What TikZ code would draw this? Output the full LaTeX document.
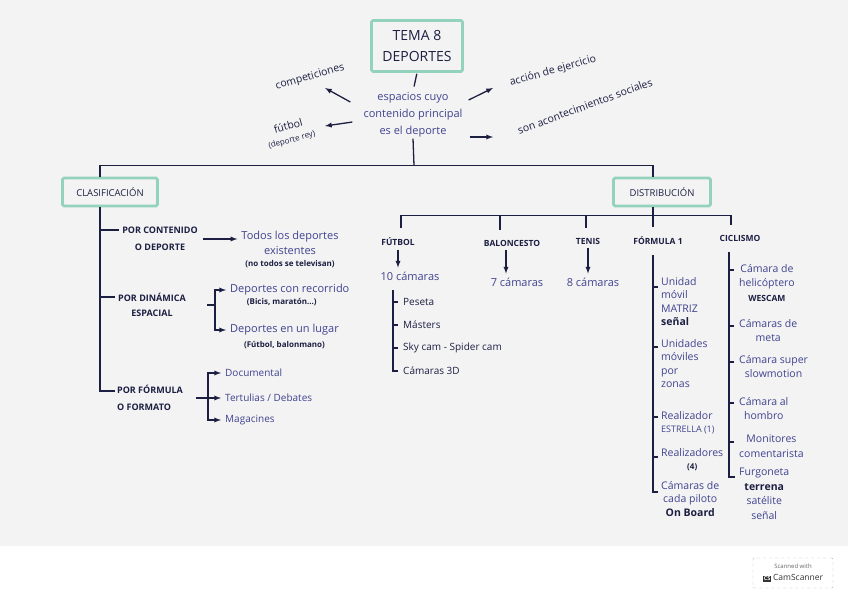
\documentclass[tikz,border=0pt]{standalone}
\usepackage{fontspec}
\setmainfont{Open Sans}
\usepackage{tikz}
\usetikzlibrary{arrows.meta,positioning}

\definecolor{ink}{HTML}{1C1F42}
\definecolor{penblue}{HTML}{40438F}
\definecolor{marker}{HTML}{93D3BD}
\definecolor{paper}{HTML}{F3F3F3}

\begin{document}
\begin{tikzpicture}[x=1pt, y=-1pt,
    wire/.style={draw=ink, line width=1.3pt},
    marked/.style={draw=marker, line width=2.6pt, rounded corners=1.5pt, text=ink, align=center, inner sep=0pt},
    caps/.style={text=ink, font=\fontsize{9}{17}\selectfont\bfseries, inner sep=1pt},
    sport/.style={text=ink, font=\fontsize{8.5}{10}\selectfont\bfseries, inner sep=1pt},
    pen/.style={text=penblue, font=\fontsize{11}{15}\selectfont, inner sep=1pt},
    listitem/.style={text=penblue, font=\fontsize{10.5}{13.5}\selectfont, inner sep=1pt},
    cyclitem/.style={text=penblue, font=\fontsize{10.5}{14.5}\selectfont, inner sep=1pt, align=center, anchor=north west},
    note/.style={text=ink, font=\fontsize{10.5}{13}\selectfont, inner sep=1pt},
    aside/.style={text=ink, font=\fontsize{8}{9}\selectfont\bfseries, inner sep=1pt}]

\useasboundingbox (0,0) rectangle (848,599);
\fill[paper] (0,0) rectangle (848,546);

% tema central
\node[marked, minimum width=91pt, minimum height=51pt, font=\fontsize{14}{21}\selectfont] (tema) at (417,46) {TEMA 8\\DEPORTES};
\node[pen, align=center, font=\fontsize{11}{17}\selectfont] (espacios) at (413,115) {espacios cuyo\\contenido principal\\es el deporte};
\draw[wire, shorten <=1pt, shorten >=5pt] (tema.south) -- (espacios.north);

\node[note, rotate=16] (compet) at (310,77) {competiciones};
\node[note, rotate=15, align=center, font=\fontsize{10.5}{13}\selectfont] (futbolrey) at (290,133) {fútbol\\{\fontsize{8}{10}\selectfont (deporte rey)}};
\node[note, rotate=16] (accion) at (553,71) {acción de ejercicio};
\node[note, rotate=20] (sociales) at (585,106) {son acontecimientos sociales};

\draw[wire, -latex] ([shift={(-12,-13)}]espacios.west) -- ([shift={(15,11)}]compet.center);
\draw[wire, -latex] ([shift={(-10,7)}]espacios.west) -- ([shift={(35,-7)}]futbolrey.center);
\draw[wire, -latex] ([shift={(5,-15)}]espacios.east) -- ([shift={(-60,17)}]accion.center);
\draw[wire, -latex] ([shift={(6,22)}]espacios.east) -- ([shift={(-92,31)}]sociales.center);

% las dos ramas
\coordinate (split) at ([shift={(1,27)}]espacios.south);
\node[marked, minimum width=95pt, minimum height=28pt, font=\fontsize{9.5}{11}\selectfont] (clasif) at (110,192) {CLASIFICACIÓN};
\node[marked, minimum width=97pt, minimum height=28pt, font=\fontsize{9.5}{11}\selectfont] (distrib) at (662,192) {DISTRIBUCIÓN};
\draw[wire] (espacios.south) -- (split);
\draw[wire] ([xshift=-10pt]clasif.north) |- (split) -| ([xshift=-9pt]distrib.north);

% clasificacion
\node[caps, align=center] (contenido) at (160,239) {POR CONTENIDO\\O DEPORTE};
\node[pen, align=center] (todos) at (290,243) {Todos los deportes\\existentes};
\node[aside, below=3pt of todos] (televisan) {(no todos se televisan)};
\node[caps, align=center, font=\fontsize{9}{15}\selectfont\bfseries] (dinamica) at (152,305) {POR DINÁMICA\\ESPACIAL};
\node[pen, anchor=west] (recorrido) at (229,290) {Deportes con recorrido};
\node[aside, below=0pt of recorrido, xshift=-8pt] (bicis) {(Bicis, maratón...)};
\node[pen, anchor=west] (lugar) at (229,330) {Deportes en un lugar};
\node[aside, below=3pt of lugar] (balonmano) {(Fútbol, balonmano)};
\node[caps, align=left] (formato) at (150,398) {POR FÓRMULA\\O FORMATO};
\node[pen, anchor=west, font=\fontsize{10}{12}\selectfont] (documental) at (224,373) {Documental};
\node[pen, anchor=west, font=\fontsize{10}{12}\selectfont] (tertulias) at (224,398) {Tertulias / Debates};
\node[pen, anchor=west, font=\fontsize{10}{12}\selectfont] (magacines) at (224,420) {Magacines};

\coordinate (cspine) at ([xshift=-10pt]clasif.south);
\coordinate (tickA) at ([shift={(-2,-9)}]contenido.west);
\coordinate (tickB) at ([shift={(-2,-8)}]dinamica.west);
\draw[wire] (cspine) |- ([shift={(-1,-7)}]formato.west);
\draw[wire] (cspine |- tickA) -- (tickA);
\draw[wire] (cspine |- tickB) -- (tickB);
\draw[wire, -latex, shorten <=4pt, shorten >=3pt] (contenido.east) -- (contenido.east -| todos.west);

\draw[wire] ([xshift=20pt]dinamica.east) -- ++(8,0) coordinate (dinfork);
\draw[wire, -latex, shorten >=3pt] (dinfork) |- (recorrido.west);
\draw[wire, -latex, shorten >=3pt] (dinfork) |- (lugar.west);

\draw[wire] ([xshift=12pt]formato.east) -- ++(12,0) coordinate (forfork);
\draw[wire, -latex, shorten >=3pt] (forfork) |- (documental.west);
\draw[wire, -latex, shorten >=3pt] (forfork) -- (tertulias.west);
\draw[wire, -latex, shorten >=3pt] (forfork) |- (magacines.west);

% distribucion
\node[sport] (futbol) at (398,242) {FÚTBOL};
\node[sport] (baloncesto) at (512,243) {BALONCESTO};
\node[sport] (tenis) at (588,241) {TENIS};
\node[sport] (formula1) at (658,241) {FÓRMULA 1};
\node[sport] (ciclismo) at (740,238) {CICLISMO};

\coordinate (dsplit) at ([shift={(-9,8)}]distrib.south);
\coordinate (dropA) at ([shift={(3,-9)}]futbol.north);
\coordinate (dropB) at ([shift={(-12,-9)}]baloncesto.north);
\coordinate (dropC) at ([shift={(-2,-9)}]tenis.north);
\coordinate (dropD) at ([shift={(-5,-9)}]formula1.north);
\coordinate (dropE) at ([shift={(-9,-9)}]ciclismo.north);
\draw[wire] ([xshift=-9pt]distrib.south) -- (dropD);
\draw[wire] (dropA) |- (dsplit) -| (dropE);
\draw[wire] (dropB |- dsplit) -- (dropB);
\draw[wire] (dropC |- dsplit) -- (dropC);

\node[pen] (diez) at (410,276) {10 cámaras};
\node[pen] (siete) at (517,282) {7 cámaras};
\node[pen] (ocho) at (593,282) {8 cámaras};
\draw[wire, -latex, shorten <=3pt, shorten >=3pt] (futbol.south) -- ([xshift=-12pt]diez.north);
\draw[wire, -latex, shorten <=3pt, shorten >=3pt] ([xshift=-6pt]baloncesto.south) -- ([xshift=-11pt]siete.north);
\draw[wire, -latex, shorten <=3pt, shorten >=3pt] (tenis.south) -- ([xshift=-5pt]ocho.north);

% futbol
\node[note, anchor=west, font=\fontsize{10}{12}\selectfont] (peseta) at (402,302) {Peseta};
\node[note, anchor=west, font=\fontsize{10}{12}\selectfont] (masters) at (402,325) {Másters};
\node[note, anchor=west, font=\fontsize{10}{12}\selectfont] (skycam) at (402,348) {Sky cam - Spider cam};
\node[note, anchor=west, font=\fontsize{10}{12}\selectfont] (camaras3d) at (402,371) {Cámaras 3D};
\coordinate (fspine) at ([shift={(-17,9)}]diez.south);
\draw[wire] (fspine) |- ([xshift=-4pt]camaras3d.west);
\draw[wire] (fspine |- peseta.west) -- ([xshift=-4pt]peseta.west);
\draw[wire] (fspine |- masters.west) -- ([xshift=-4pt]masters.west);
\draw[wire] (fspine |- skycam.west) -- ([xshift=-4pt]skycam.west);

% formula 1
\node[listitem, anchor=north west, align=left] (unidad) at (660,276) {Unidad\\móvil\\MATRIZ\\{\color{ink}\bfseries señal}};
\node[listitem, anchor=north west, align=left] (unidades) at (660,338) {Unidades\\móviles\\por\\zonas};
\node[listitem, anchor=north west, align=left] (realizador) at (660,410) {Realizador\\{\fontsize{9}{11}\selectfont ESTRELLA (1)}};
\node[listitem, anchor=north west, align=center] (realizadores) at (660,447) {Realizadores\\{\color{ink}\bfseries\fontsize{8}{10}\selectfont (4)}};
\node[listitem, anchor=north west, align=center] (pilotos) at (660,480) {Cámaras de\\cada piloto\\{\color{ink}\bfseries On Board}};
\coordinate (f1top) at ([shift={(-5,9)}]formula1.south);
\draw[wire] (f1top) |- ([shift={(-2,12)}]pilotos.north west);
\draw[wire] ([shift={(-7,11)}]unidad.north west) -- ([shift={(-2,11)}]unidad.north west);
\draw[wire] ([shift={(-7,9)}]unidades.north west) -- ([shift={(-2,9)}]unidades.north west);
\draw[wire] ([shift={(-7,7)}]realizador.north west) -- ([shift={(-2,7)}]realizador.north west);
\draw[wire] ([shift={(-7,10)}]realizadores.north west) -- ([shift={(-2,10)}]realizadores.north west);

% ciclismo
\node[cyclitem] (heli) at (738,263) {Cámara de\\helicóptero\\{\color{ink}\bfseries\fontsize{8.5}{10}\selectfont WESCAM}};
\node[cyclitem] (meta) at (738,318) {Cámaras de\\meta};
\node[cyclitem] (slow) at (738,354) {Cámara super\\slowmotion};
\node[cyclitem] (hombro) at (738,396) {Cámara al\\hombro};
\node[cyclitem] (monitores) at (738,434) {Monitores\\comentarista};
\node[cyclitem] (furgoneta) at (738,467) {Furgoneta\\{\color{ink}\bfseries terrena}\\satélite\\señal};
\coordinate (cictop) at ([shift={(-11,10)}]ciclismo.south);
\draw[wire] (cictop) |- ([shift={(-3,10)}]furgoneta.north west);
\draw[wire] ([shift={(-9,7)}]heli.north west) -- ([shift={(-4,7)}]heli.north west);
\draw[wire] ([shift={(-9,8)}]meta.north west) -- ([shift={(-4,8)}]meta.north west);
\draw[wire] ([shift={(-9,8)}]slow.north west) -- ([shift={(-4,8)}]slow.north west);
\draw[wire] ([shift={(-9,7)}]hombro.north west) -- ([shift={(-4,7)}]hombro.north west);
\draw[wire] ([shift={(-9,8)}]monitores.north west) -- ([shift={(-4,8)}]monitores.north west);

% sello
\node[draw=gray!55, dashed, rounded corners=1pt, minimum width=80pt, minimum height=30pt, inner sep=1pt, align=center, fill=white] (scanner) at (793,573) {{\fontsize{6}{7.5}\selectfont\color{gray!80!black}Scanned with}\\{\setlength{\fboxsep}{1pt}\colorbox{black!80}{\fontsize{5.5}{6}\selectfont\bfseries\color{white}CS}}\,{\fontsize{8.5}{10}\selectfont\color{black!80}CamScanner}};

\end{tikzpicture}
\end{document}
